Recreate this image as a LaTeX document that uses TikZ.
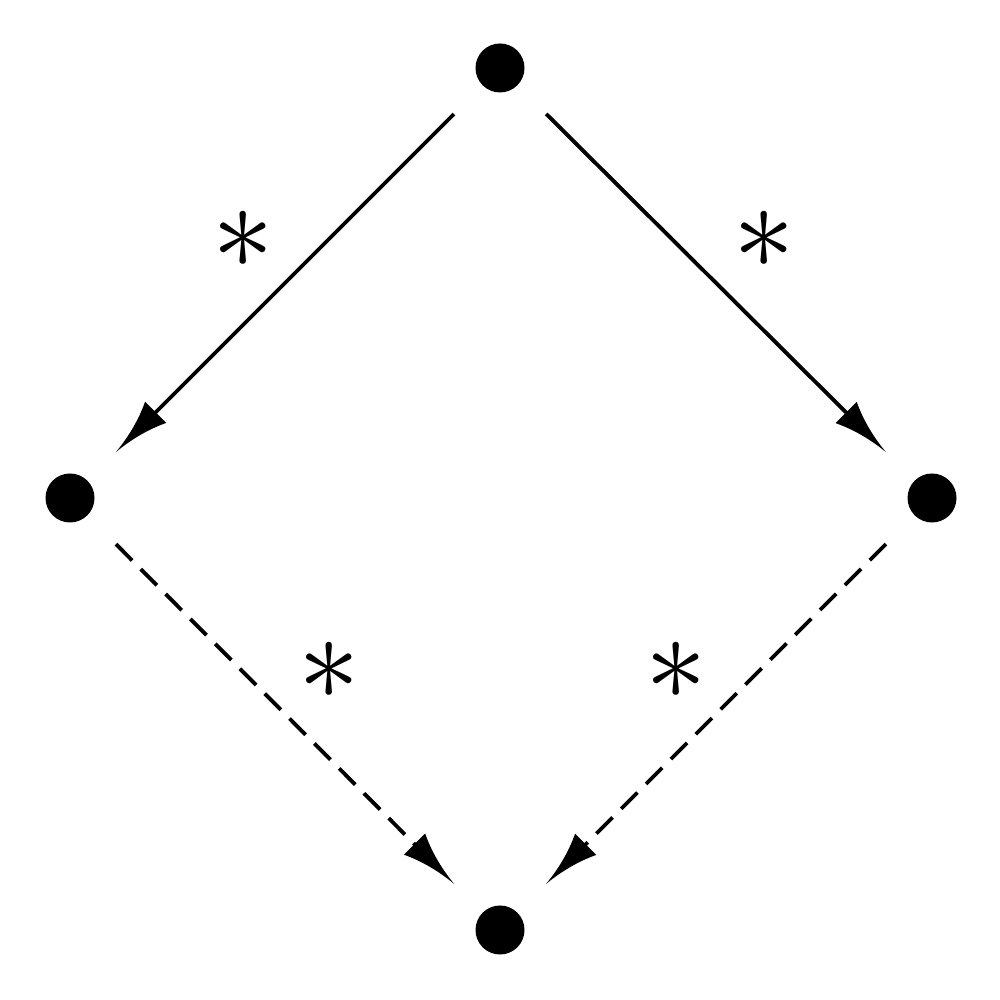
\documentclass[tikz,border=0pt]{standalone}
\usetikzlibrary{positioning, arrows.meta}

% concave sided arrow head
\pgfdeclarearrow{
  name = Cusp,
  parameters = {\the\pgfarrowlength,\the\pgfarrowwidth},
  setup code = {
    \pgfarrowssettipend{0pt}
    \pgfarrowssetbackend{-\pgfarrowlength}
    \pgfarrowssetlineend{-0.8\pgfarrowlength}
    \pgfarrowssavethe\pgfarrowlength
    \pgfarrowssavethe\pgfarrowwidth
  },
  drawing code = {
    \pgfpathmoveto{\pgfpointorigin}
    \pgfpathquadraticcurveto{\pgfpoint{-0.55\pgfarrowlength}{0.1\pgfarrowwidth}}
                            {\pgfpoint{-\pgfarrowlength}{0.5\pgfarrowwidth}}
    \pgfpathlineto{\pgfpoint{-\pgfarrowlength}{-0.5\pgfarrowwidth}}
    \pgfpathquadraticcurveto{\pgfpoint{-0.55\pgfarrowlength}{-0.1\pgfarrowwidth}}
                            {\pgfpointorigin}
    \pgfpathclose
    \pgfusepathqfill
  },
  defaults = {length=5.6mm, width=3mm}
}

\tikzset{
  dot/.style={circle, fill, inner sep=0pt, minimum size=4.9mm},
  ast/.style={inner sep=0pt, scale=3.5},
  arr/.style={-Cusp, line width=1.1pt, shorten <=4mm, shorten >=4mm},
  dasharr/.style={arr, dash pattern=on 6.5pt off 3.5pt},
}

\begin{document}
\begin{tikzpicture}
  \useasboundingbox (0,0) rectangle (10,10);

  % vertices
  \node[dot] (top) at (5, 9.32) {};
  \node[dot] (left) at (0.70, 5.02) {};
  \node[dot] (right) at (9.32, 5.02) {};
  \node[dot] (bot) at (5, 0.70) {};

  % solid arrows
  \draw[arr] (top) -- (left) node[ast, midway, above left=0.08cm and 0.04cm] {$\ast$};
  \draw[arr] (top) -- (right) node[ast, midway, above right=0.08cm and 0.11cm] {$\ast$};

  % dashed arrows
  \draw[dasharr] (left) -- (bot) node[ast, midway, above right=0.08cm and 0.07cm] {$\ast$};
  \draw[dasharr] (right) -- (bot) node[ast, midway, above left=0.08cm and 0.02cm] {$\ast$};
\end{tikzpicture}
\end{document}
